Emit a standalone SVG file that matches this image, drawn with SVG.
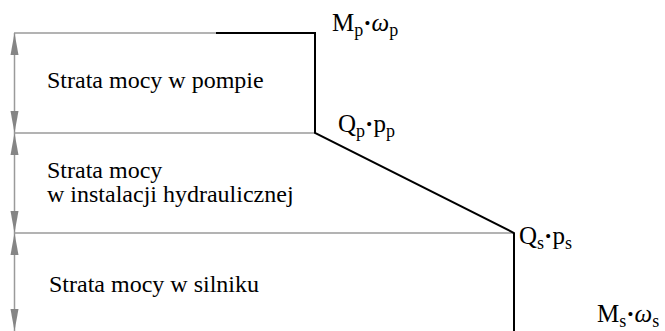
<svg xmlns="http://www.w3.org/2000/svg" width="665" height="331" viewBox="0 0 665 331">
<style>
.g{stroke:#9a9a9a;stroke-width:1.5;fill:none}
.b{stroke:#000;stroke-width:2;fill:none}
.ah{fill:#858585}
text{font-family:"Liberation Serif","Times New Roman",serif;font-size:24px;fill:#000}
.lbl{font-size:25px}
.sub{font-size:18px}
.w{font-style:italic}
</style>
<rect width="665" height="331" fill="#fff"/>
<g id="connectors">
<line class="g" x1="14" y1="33" x2="216" y2="33"/>
<line class="g" x1="14" y1="133" x2="315" y2="133"/>
<line class="g" x1="14" y1="233" x2="514" y2="233"/>
<line class="g" x1="14.5" y1="33" x2="14.5" y2="331"/>
<polygon class="ah" points="14.5,33 10.5,55 18.5,55"/>
<polygon class="ah" points="14.5,133 10.5,111 18.5,111"/>
<polygon class="ah" points="14.5,133 10.5,155 18.5,155"/>
<polygon class="ah" points="14.5,233 10.5,211 18.5,211"/>
<polygon class="ah" points="14.5,233 10.5,255 18.5,255"/>
<polygon class="ah" points="14.5,331 10.5,309 18.5,309"/>
<polyline class="b" points="216,33 315,33 315,133 514,233 514,331"/>
</g>
<g id="pump"><text x="47" y="88">Strata mocy w pompie</text></g>
<g id="hydraulic"><text x="47" y="178">Strata mocy<tspan x="47" dy="23.5">w instalacji hydraulicznej</tspan></text></g>
<g id="motor"><text x="49" y="291.5">Strata mocy w silniku</text></g>
<g id="label-mp"><text class="lbl" x="332" y="31">M<tspan class="sub" dy="5">p</tspan><tspan dy="-5" font-weight="bold">·</tspan><tspan class="w">ω</tspan><tspan class="sub" dy="5">p</tspan></text></g>
<g id="label-qp"><text class="lbl" x="338" y="132">Q<tspan class="sub" dy="5">p</tspan><tspan dy="-5" font-weight="bold">·</tspan>p<tspan class="sub" dy="5">p</tspan></text></g>
<g id="label-qs"><text class="lbl" x="519" y="244">Q<tspan class="sub" dy="5">s</tspan><tspan dy="-5" font-weight="bold">·</tspan>p<tspan class="sub" dy="5">s</tspan></text></g>
<g id="label-ms"><text class="lbl" x="597" y="322">M<tspan class="sub" dy="5">s</tspan><tspan dy="-5" font-weight="bold">·</tspan><tspan class="w">ω</tspan><tspan class="sub" dy="5">s</tspan></text></g>
</svg>
